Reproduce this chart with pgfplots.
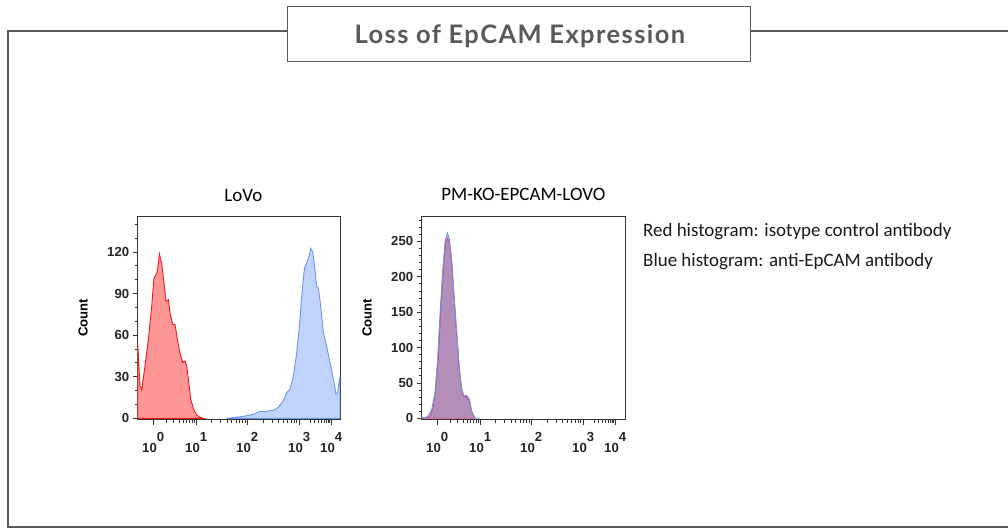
\documentclass[border=0pt]{standalone}
\usepackage{fontspec}
\usepackage{pgfplots}
\pgfplotsset{compat=1.18}
\setmainfont{Liberation Sans}
\newfontfamily\carlito{Carlito}
\newfontfamily\lato{Lato}[LetterSpace=5.5]

\definecolor{framegray}{RGB}{90,90,92}
\definecolor{titlegray}{RGB}{88,89,91}
\definecolor{redline}{RGB}{240,25,25}
\definecolor{redfill}{RGB}{255,150,150}
\definecolor{blueline}{RGB}{105,150,240}
\definecolor{bluefill}{RGB}{192,211,250}
\definecolor{mixfill}{RGB}{178,142,185}
\definecolor{mixline}{RGB}{205,70,110}

% common look of both histograms
\pgfplotsset{
  facs/.style={
    scale only axis,
    height=203.7bp,
    xmin=0, xmax=202.3,
    axis line style={black!80, line width=0.9bp},
    tick style={black!80, line width=0.8bp},
    tick align=outside,
    xtick pos=bottom, ytick pos=left,
    major tick length=5bp, minor tick length=3bp,
    xtick={15.5,58.5,109.5,161.5,193.5},
    xticklabels={{10\raisebox{0.85em}{0}},{10\raisebox{0.85em}{1}},
      {10\raisebox{0.85em}{2}},{10\raisebox{0.85em}{3}},{10\raisebox{0.85em}{4}}},
    minor xtick={28.4,36.0,41.4,45.6,49.0,51.8,54.3,56.5,
      73.9,82.8,89.2,94.1,98.2,101.6,104.6,107.2,
      125.2,134.3,140.8,145.8,150.0,153.4,156.5,159.1,
      173.1,176.8,180.8,183.9,186.4,188.5,190.4,192.0},
    ticklabel style={font=\fontsize{13.2}{15}\selectfont\bfseries, text=black!85},
    xticklabel style={anchor=base, yshift=-28.3bp},
    ylabel={Count},
    ylabel style={font=\fontsize{13.2}{15}\selectfont\bfseries, anchor=center},
    title style={font=\carlito\fontsize{19}{21}\selectfont, anchor=base},
  }
}

\begin{document}
\begin{tikzpicture}[x=1bp,y=1bp]
\useasboundingbox (0,0) rectangle (1008,529);

% outer frame and title box
\draw[framegray, line width=1.2bp] (287.3,498) -- (8,498) -- (8,2) -- (1008,2);
\draw[framegray, line width=1.2bp] (750.7,498) -- (1008,498);
\draw[framegray, line width=1.2bp] (287.3,467.3) rectangle (750.7,522.3);
\node[anchor=base, text=titlegray, font=\lato\bfseries\fontsize{25.6}{28}\selectfont]
  at (519.9,485.7) {Loss of EpCAM Expression};

% side notes
\node[anchor=base west, inner sep=0pt, font=\carlito\fontsize{19}{22}\selectfont, text=black!90]
  at (643,292) {Red histogram: isotype control antibody};
\node[anchor=base west, inner sep=0pt, font=\carlito\fontsize{19}{22}\selectfont, text=black!90]
  at (643,262.3) {Blue histogram: anti-EpCAM antibody};

% LoVo
\begin{axis}[facs, at={(137.7bp,109.3bp)}, anchor=south west,
    width=202.3bp,
    ymin=-1, ymax=146,
    ytick={0,30,60,90,120},
    yticklabels={0,30,60,90,120},
    minor ytick={10,20,40,50,70,80,100,110,130,140},
    ylabel style={at={(axis description cs:-0.27,0.5)}},
    title={LoVo},
    title style={at={(axis description cs:0.522,1)}, yshift=9bp},
  ]
  \addplot[draw=redline, fill=redfill, line width=0.9bp] coordinates {
    (0,54.5) (2.3,23.4) (4,20.6) (7.3,37.8) (10.7,56.9) (14,80.8) (16.3,101)
    (19,104.7) (20,108) (21.7,118.6) (24,111.9) (26.3,97.5) (28.3,84.4)
    (30.7,85.6) (32.3,76) (35,67.7) (37.3,67.7) (39.7,56.9) (42.3,47.3)
    (45,40.2) (47.3,41.4) (49,37.8) (50.7,28.2) (53,13.9) (55.7,6.7)
    (59,2.4) (62.3,0.7) (65.7,0) (0,0)
  } -- cycle;
  \addplot[draw=blueline, fill=bluefill, line width=0.9bp] coordinates {
    (89,0) (95.7,0.5) (105.7,1.4) (115.7,2.9) (122.3,5) (125.7,4.8)
    (130.7,5.3) (135.7,5.7) (140.7,7.9) (145.7,12.7) (149,18.6) (152.3,21)
    (155.7,30.6) (159,47.3) (161.7,66.5) (164,88) (166.7,108.3) (169,111.9)
    (171.7,117.9) (173,122.6) (175,120.2) (177.3,107.1) (179,95.1)
    (180.7,94) (183,80.8) (185.7,61.7) (189,52.1) (192.3,40.2) (195.7,28.2)
    (198.3,17.5) (200,18.6) (201.7,28.2) (202.3,29.4) (202.3,0)
  } -- cycle;
\end{axis}

% PM-KO-EPCAM-LOVO
\begin{axis}[facs, at={(421.7bp,109.3bp)}, anchor=south west,
    width=203.3bp,
    xmax=203.3,
    ymin=-2, ymax=286,
    ytick={0,50,100,150,200,250},
    yticklabels={0,50,100,150,200,250},
    minor ytick={10,20,...,280},
    ylabel style={at={(axis description cs:-0.268,0.5)}},
    title={PM-KO-EPCAM-LOVO},
    title style={at={(axis description cs:0.5,1)}, yshift=10bp},
  ]
  \addplot[draw=none, fill=bluefill] coordinates {
    (0,1.4) (3.3,0.5) (6.7,3.8) (10,12.4) (13.3,36.3) (15.7,79.3) (18.3,146.3)
    (21,208.4) (23.3,249) (25.7,262) (27.7,253.8) (30,222.8) (32.3,175)
    (35,122.4) (37.7,69.8) (40,41.1) (42.3,31.5) (45,32.5) (47.7,26.8)
    (50,10) (53.3,0.5) (58.3,0) (0,0)
  } -- cycle;
  \addplot[draw=mixline, fill=mixfill, line width=0.8bp] coordinates {
    (0,0) (5,0) (8.3,2.9) (11.7,17.2) (14.3,45.9) (16.7,88.9) (19,151)
    (21.7,213.2) (24,249) (25.7,254.8) (27.7,249) (30,220.4) (32.3,172.6)
    (35,120) (37.7,67.4) (40,40.2) (42.3,30.6) (45,30.6) (47.7,24.4)
    (50,8.6) (53.3,0) (0,0)
  } -- cycle;
  \addplot[draw=blueline, line width=0.9bp] coordinates {
    (0,1.4) (3.3,0.5) (6.7,3.8) (10,12.4) (13.3,36.3) (15.7,79.3) (18.3,146.3)
    (21,208.4) (23.3,249) (25.7,262) (27.7,253.8) (30,222.8) (32.3,175)
    (35,122.4) (37.7,69.8) (40,41.1) (42.3,31.5) (45,32.5) (47.7,26.8)
    (50,10) (53.3,0.5) (58.3,0)
  };
\end{axis}
\end{tikzpicture}
\end{document}
